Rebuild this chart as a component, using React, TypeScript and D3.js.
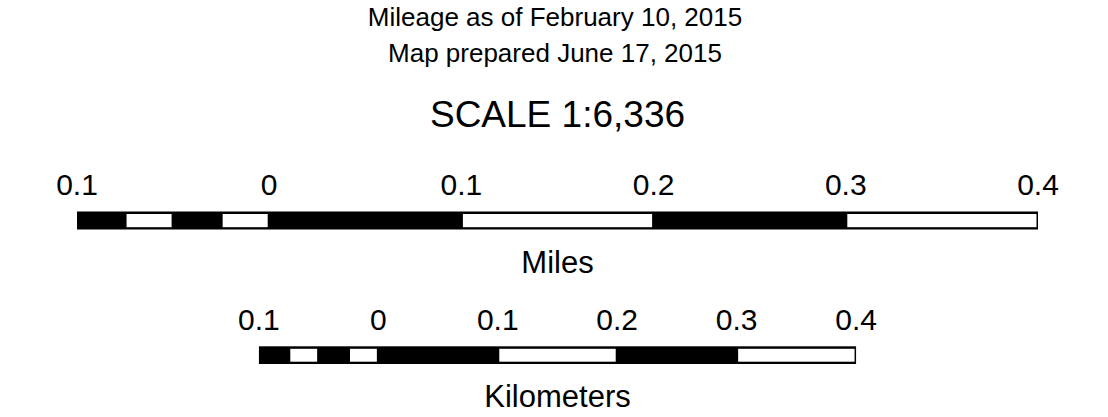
import React from "react";
import * as d3 from "d3";

const headerLines = ["Mileage as of February 10, 2015", "Map prepared June 17, 2015"];
const scaleTitle = "SCALE 1:6,336";
const tickValues = [-0.1, 0, 0.1, 0.2, 0.3, 0.4];
const tickLabels = ["0.1", "0", "0.1", "0.2", "0.3", "0.4"];
const segmentBreaks = [-0.1, -0.075, -0.05, -0.025, 0, 0.1, 0.2, 0.3, 0.4];
const segmentFills = ["#000", "#fff", "#000", "#fff", "#000", "#fff", "#000", "#fff"];
const milesPerKm = 0.621371;

const W = 1108;
const H = 417;
const CX = 557.5;
const FONT = "'Liberation Sans', Arial, Helvetica, sans-serif";

function ScaleBar({ scale, y, h, labelY, title, titleY }: any) {
  const [x0, x1] = scale.range();
  return (
    <g>
      {tickValues.map((v, i) => (
        <text key={"t" + i} x={scale(v)} y={labelY} textAnchor="middle" fontSize={30} fill="#000">
          {tickLabels[i]}
        </text>
      ))}
      <rect x={x0} y={y} width={x1 - x0} height={h} fill="#000" />
      {segmentBreaks.slice(0, -1).map((b, i) =>
        segmentFills[i] === "#fff" ? (
          <rect
            key={"s" + i}
            x={scale(b) + 1.5}
            y={y + 2.5}
            width={scale(segmentBreaks[i + 1]) - scale(b) - 3}
            height={h - 4.8}
            fill="#fff"
          />
        ) : null
      )}
      <text x={CX} y={titleY} textAnchor="middle" fontSize={31} fill="#000">
        {title}
      </text>
    </g>
  );
}

export default function App() {
  const miles = d3.scaleLinear().domain([-0.1, 0.4]).range([77, 1038]);
  const pxPerMile = (1038 - 77) / 0.5;
  const kmHalf = (pxPerMile * milesPerKm * 0.5) / 2;
  const km = d3.scaleLinear().domain([-0.1, 0.4]).range([CX - kmHalf, CX + kmHalf]);
  return (
    <svg
      width={W}
      height={H}
      style={{ position: "absolute", left: 0, top: 0, background: "#fff" }}
      fontFamily={FONT}
    >
      <rect width={W} height={H} fill="#fff" />
      {headerLines.map((t, i) => (
        <text key={i} x={555} y={26 + i * 35.5} textAnchor="middle" fontSize={26} fill="#000">
          {t}
        </text>
      ))}
      <text x={CX} y={126.5} textAnchor="middle" fontSize={37} fill="#000">
        {scaleTitle}
      </text>
      <ScaleBar scale={miles} y={211.5} h={18} labelY={195} title="Miles" titleY={273.3} />
      <ScaleBar scale={km} y={346.3} h={17.7} labelY={330} title="Kilometers" titleY={407.3} />
    </svg>
  );
}
